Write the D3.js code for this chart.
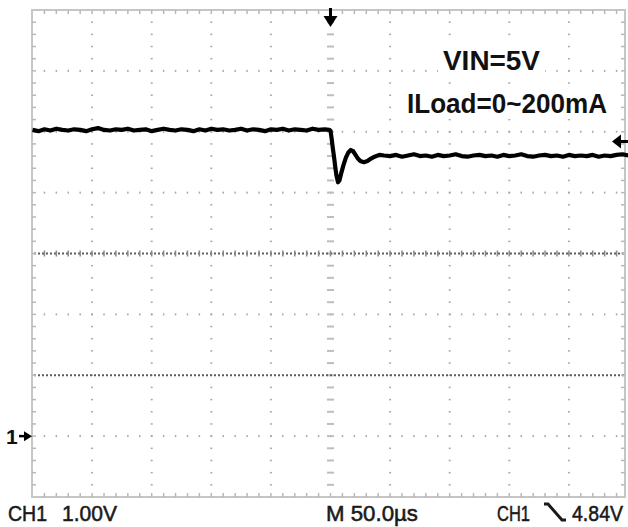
<!DOCTYPE html>
<html>
<head>
<meta charset="utf-8">
<script src="https://cdn.jsdelivr.net/npm/d3@7"></script>
<style>
  html, body { margin: 0; padding: 0; background: #fff; }
  svg { display: block; }
  text { font-family: "Liberation Sans Narrow", "Arial Narrow", "Liberation Sans", Arial, sans-serif; }
</style>
</head>
<body>
<svg id="chart" width="628" height="527"></svg>
<script>
// ---------------- data ----------------
// time axis (µs, trigger at 0) and CH1 voltage (V), 1.00 V/div, 50.0 µs/div
const timeDivs = [-250, -200, -150, -100, -50, 0, 50, 100, 150, 200, 250];
const voltDivs = [-1, 0, 1, 2, 3, 4, 5, 6, 7];

const preTime = [-250,-245,-240,-235,-230,-225,-220,-215,-210,-205,
                 -200,-195,-190,-185,-180,-175,-170,-165,-160,-155,
                 -150,-145,-140,-135,-130,-125,-120,-115,-110,-105,
                 -100,-95,-90,-85,-80,-75,-70,-65,-60,-55,
                 -50,-45,-40,-35,-30,-25,-20,-15,-10,-5,-1,0];
const preVolt = [5.03,5.01,5.04,5.02,5.05,5.03,5.02,5.04,5.03,5.01,
                 5.04,5.06,5.03,5.02,5.04,5.03,5.05,5.02,5.03,5.04,
                 5.01,5.03,5.05,5.03,5.02,5.04,5.03,5.01,5.04,5.02,
                 5.05,5.03,5.04,5.02,5.03,5.05,5.02,5.04,5.03,5.01,
                 5.04,5.03,5.05,5.02,5.04,5.03,5.02,5.05,5.03,5.04,5.03,5.02];

const stepTime = [1, 2, 3, 4, 5, 6.3, 7.5, 9, 11, 13, 15, 17, 19, 21, 23, 25, 28, 31, 34, 37, 41];
const stepVolt = [4.88,4.72,4.58,4.42,4.28,4.17,4.20,4.32,4.46,4.58,4.66,4.70,4.68,4.62,4.56,4.52,4.50,4.52,4.56,4.59,4.62];

const postTime = [45,50,55,60,65,70,75,80,85,90,
                  95,100,105,110,115,120,125,130,135,140,
                  145,150,155,160,165,170,175,180,185,190,
                  195,200,205,210,215,220,225,230,235,240,
                  245,250];
const postVolt = [4.61,4.60,4.62,4.59,4.61,4.63,4.60,4.61,4.59,4.62,
                  4.60,4.61,4.63,4.60,4.59,4.61,4.62,4.60,4.61,4.59,
                  4.62,4.60,4.61,4.63,4.60,4.59,4.61,4.62,4.60,4.61,
                  4.59,4.62,4.60,4.61,4.60,4.62,4.59,4.61,4.60,4.62,
                  4.63,4.61];

const triggerLevel = 4.84;   // V
const groundLevel = 0;       // V
const annotations = ["VIN=5V", "ILoad=0~200mA"];
const bottomLabels = ["CH1", "1.00V", "M 50.0\u00b5s", "CH1", "4.84V"];
const channelMarker = "1";

// ---------------- build ----------------
const svg = d3.select("#chart");
const x = d3.scaleLinear().domain([-250, 250]).range([32.5, 628.5]);
const y = d3.scaleLinear().domain([-1, 7]).range([497, 10]);
const frameRight = 625;

const trace = [];
preTime.forEach((t, i) => trace.push([t, preVolt[i]]));
stepTime.forEach((t, i) => trace.push([t, stepVolt[i]]));
postTime.forEach((t, i) => trace.push([t, postVolt[i]]));

const minorT = d3.range(-250, 250.01, 10);
const minorV = d3.range(-1, 7.001, 0.2);

const g = svg.append("g");

// regular dotted vertical gridlines
timeDivs.slice(1, -1).filter(t => t !== 0).forEach(t => {
  g.selectAll(null).data(minorV.slice(1, -1)).enter().append("rect")
    .attr("x", x(t) - 1).attr("y", v => y(v) - 0.75)
    .attr("width", 2).attr("height", 1.5).attr("fill", "#a8a8a8");
});
// regular dotted horizontal gridlines
voltDivs.slice(1, -1).filter(v => v !== 3 && v !== 1).forEach(v => {
  g.selectAll(null).data(minorT.slice(1, -1).filter(t => x(t) < frameRight - 2)).enter().append("rect")
    .attr("x", t => x(t) - 0.75).attr("y", y(v) - 1)
    .attr("width", 1.5).attr("height", 2).attr("fill", "#a8a8a8");
});
// center vertical axis with dashes
g.selectAll(null).data(minorV.slice(1, -1)).enter().append("rect")
  .attr("x", x(0) - 3.5).attr("y", v => y(v) - 1)
  .attr("width", 7).attr("height", 2).attr("fill", "#bdbdbd");
// dense dark horizontal lines (center axis and 1 V line)
[3, 1].forEach(v => {
  g.append("line")
    .attr("x1", 34).attr("x2", frameRight - 1)
    .attr("y1", y(v)).attr("y2", y(v))
    .attr("stroke", "#5e5e5e").attr("stroke-width", 2.2)
    .attr("stroke-dasharray", "2,2");
});
g.selectAll(null).data(minorT.slice(1, -1).filter(t => x(t) < frameRight - 2)).enter().append("line")
  .attr("x1", t => x(t)).attr("x2", t => x(t))
  .attr("y1", y(3) - 3).attr("y2", y(3) + 3)
  .attr("stroke", "#888").attr("stroke-width", 1.5);

// frame
g.append("rect").attr("x", 32).attr("y", 10)
  .attr("width", frameRight - 32).attr("height", 487)
  .attr("fill", "none").attr("stroke", "#c6c6c6").attr("stroke-width", 2);
// border ticks
const tickT = minorT.slice(1, -1).filter(t => x(t) < frameRight - 2);
g.selectAll(null).data(tickT).enter().append("line")
  .attr("x1", t => x(t)).attr("x2", t => x(t)).attr("y1", 10).attr("y2", 14)
  .attr("stroke", "#b8b8b8").attr("stroke-width", 1.5);
g.selectAll(null).data(tickT).enter().append("line")
  .attr("x1", t => x(t)).attr("x2", t => x(t)).attr("y1", 497).attr("y2", 493)
  .attr("stroke", "#b8b8b8").attr("stroke-width", 1.5);
const tickV = minorV.slice(1, -1);
g.selectAll(null).data(tickV).enter().append("line")
  .attr("x1", 32).attr("x2", 36).attr("y1", v => y(v)).attr("y2", v => y(v))
  .attr("stroke", "#b8b8b8").attr("stroke-width", 1.5);
g.selectAll(null).data(tickV).enter().append("line")
  .attr("x1", frameRight).attr("x2", frameRight - 4).attr("y1", v => y(v)).attr("y2", v => y(v))
  .attr("stroke", "#b8b8b8").attr("stroke-width", 1.5);

// annotation text with white background
const annX = [443, 407], annY = [70, 113], annW = [97, 200];
annotations.forEach((s, i) => {
  g.append("rect").attr("x", annX[i] - 5).attr("y", annY[i] - 25)
    .attr("width", annW[i] + 10).attr("height", 31).attr("fill", "#fff");
  g.append("text").attr("x", annX[i]).attr("y", annY[i])
    .attr("font-size", 27).attr("fill", "#111").attr("font-weight", "bold")
    .attr("textLength", annW[i]).attr("lengthAdjust", "spacingAndGlyphs")
    .text(s);
});

// trace
g.append("path").datum(trace)
  .attr("d", d3.line().x(d => x(d[0])).y(d => y(d[1])))
  .attr("fill", "none").attr("stroke", "#000").attr("stroke-width", 4.2)
  .attr("stroke-linejoin", "round");

// trigger position marker (top)
const tx = x(0);
g.append("line").attr("x1", tx).attr("x2", tx).attr("y1", 8).attr("y2", 20)
  .attr("stroke", "#000").attr("stroke-width", 3);
g.append("path").attr("d", `M${tx - 7},16 L${tx + 7},16 L${tx},27 Z`).attr("fill", "#000");

// trigger level marker (right)
const ty = y(triggerLevel);
g.append("path").attr("d", `M612,${ty} L621,${ty - 7} L621,${ty + 7} Z`).attr("fill", "#000");
g.append("line").attr("x1", 618).attr("x2", 628).attr("y1", ty).attr("y2", ty)
  .attr("stroke", "#000").attr("stroke-width", 3);

// channel ground marker (left)
const gy = y(groundLevel);
g.append("text").attr("x", 6).attr("y", gy + 8).attr("font-size", 21).attr("font-weight", "bold")
  .attr("fill", "#111").text(channelMarker);
g.append("line").attr("x1", 19).attr("x2", 27).attr("y1", gy).attr("y2", gy)
  .attr("stroke", "#000").attr("stroke-width", 2.5);
g.append("path").attr("d", `M32,${gy} L24,${gy - 5} L24,${gy + 5} Z`).attr("fill", "#000");

// bottom status line (font scaled vertically for the tall narrow look)
const bx = [8, 62, 326, 497, 572], bw = [39, 55, 92, 33, 51];
bottomLabels.forEach((s, i) => {
  g.append("g").attr("transform", `translate(${bx[i]},521) scale(1,1.12)`)
    .append("text").attr("x", 0).attr("y", 0)
    .attr("font-size", 20.5).attr("fill", "#1a1a1a")
    .attr("stroke", "#1a1a1a").attr("stroke-width", 0.5)
    .attr("textLength", bw[i]).attr("lengthAdjust", "spacingAndGlyphs")
    .text(s);
});
// falling-edge slope symbol
g.append("path").attr("d", "M544,504 L548,504 L562,520 L566,520")
  .attr("fill", "none").attr("stroke", "#1a1a1a").attr("stroke-width", 3);
</script>
</body>
</html>
